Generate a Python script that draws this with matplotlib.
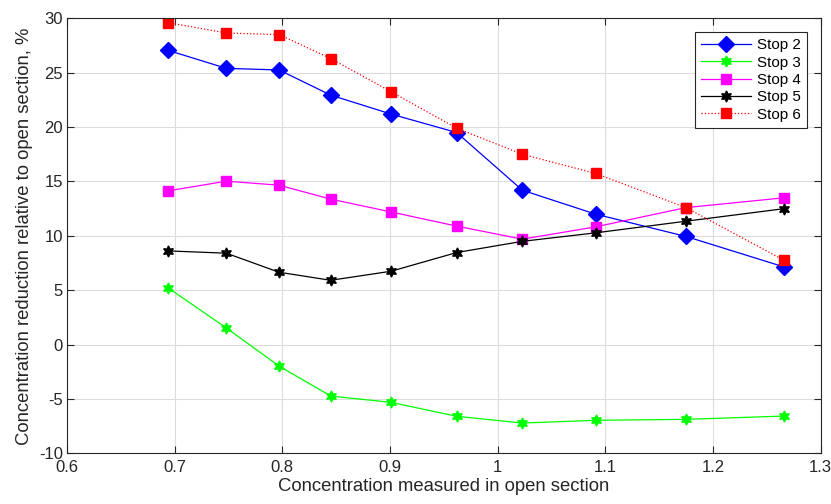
import numpy as np
import matplotlib.pyplot as plt

plt.rcParams['font.family'] = ['Liberation Sans', 'DejaVu Sans']
plt.rcParams['axes.unicode_minus'] = False

# concentration measured in open section (shared x for all stops)
conc = [0.694, 0.748, 0.797, 0.845, 0.901, 0.962, 1.023, 1.091, 1.175, 1.266]

stop2 = [27.05, 25.4, 25.25, 22.94, 21.2, 19.5, 14.2, 12.0, 9.95, 7.15]
stop3 = [5.22, 1.54, -1.96, -4.72, -5.3, -6.58, -7.2, -6.95, -6.86, -6.56]
stop4 = [14.14, 15.03, 14.66, 13.38, 12.2, 10.9, 9.7, 10.83, 12.6, 13.5]
stop5 = [8.62, 8.41, 6.66, 5.92, 6.75, 8.47, 9.5, 10.28, 11.35, 12.5]
stop6 = [29.6, 28.65, 28.5, 26.3, 23.25, 19.9, 17.5, 15.74, 12.6, 7.76]

hexagram = (6, 1, 0)

fig = plt.figure(figsize=(8.31, 5.04), dpi=100)
ax = fig.add_axes([0.0806, 0.1002, 0.9068, 0.8635])

ax.plot(conc, stop2, color='#0000ff', lw=0.9, marker='D', ms=8, label='Stop 2')
ax.plot(conc, stop3, color='#00ff00', lw=0.9, marker=hexagram, ms=8, label='Stop 3')
ax.plot(conc, stop4, color='#ff00ff', lw=0.9, marker='s', ms=6.5, label='Stop 4')
ax.plot(conc, stop5, color='black', lw=0.9, marker=hexagram, ms=8, label='Stop 5')
ax.plot(conc, stop6, color='#ff0000', lw=0.9, ls=':', marker='s', ms=6.5, label='Stop 6')

ax.set_xlim(0.6, 1.3)
ax.set_ylim(-10, 30)
ax.set_xticks(np.arange(0.6, 1.31, 0.1))
ax.set_xticklabels(['0.6', '0.7', '0.8', '0.9', '1', '1.1', '1.2', '1.3'])
ax.set_yticks(np.arange(-10, 31, 5))

ax.grid(True, color='#dcdcdc', lw=0.8)
ax.set_axisbelow(True)
ax.tick_params(direction='in', length=5, width=0.8, top=True, right=True,
               labelsize=12, colors='#262626')
ax.tick_params(axis='x', pad=5)
ax.tick_params(axis='y', pad=3)
for sp in ax.spines.values():
    sp.set_color('#262626')
    sp.set_linewidth(0.8)

ax.set_xlabel('Concentration measured in open section', fontsize=13.3,
              color='#262626', labelpad=2)
ax.set_ylabel('Concentration reduction relative to open section, %', fontsize=13.3,
              color='#262626', labelpad=4)

leg = ax.legend(loc='upper right', fontsize=11, fancybox=False, framealpha=1,
                edgecolor='#262626', borderaxespad=0.9, handlelength=3.3,
                handletextpad=0.35, labelspacing=0.22, borderpad=0.4)
leg.get_frame().set_linewidth(0.8)

fig.savefig('out.png', dpi=100)
